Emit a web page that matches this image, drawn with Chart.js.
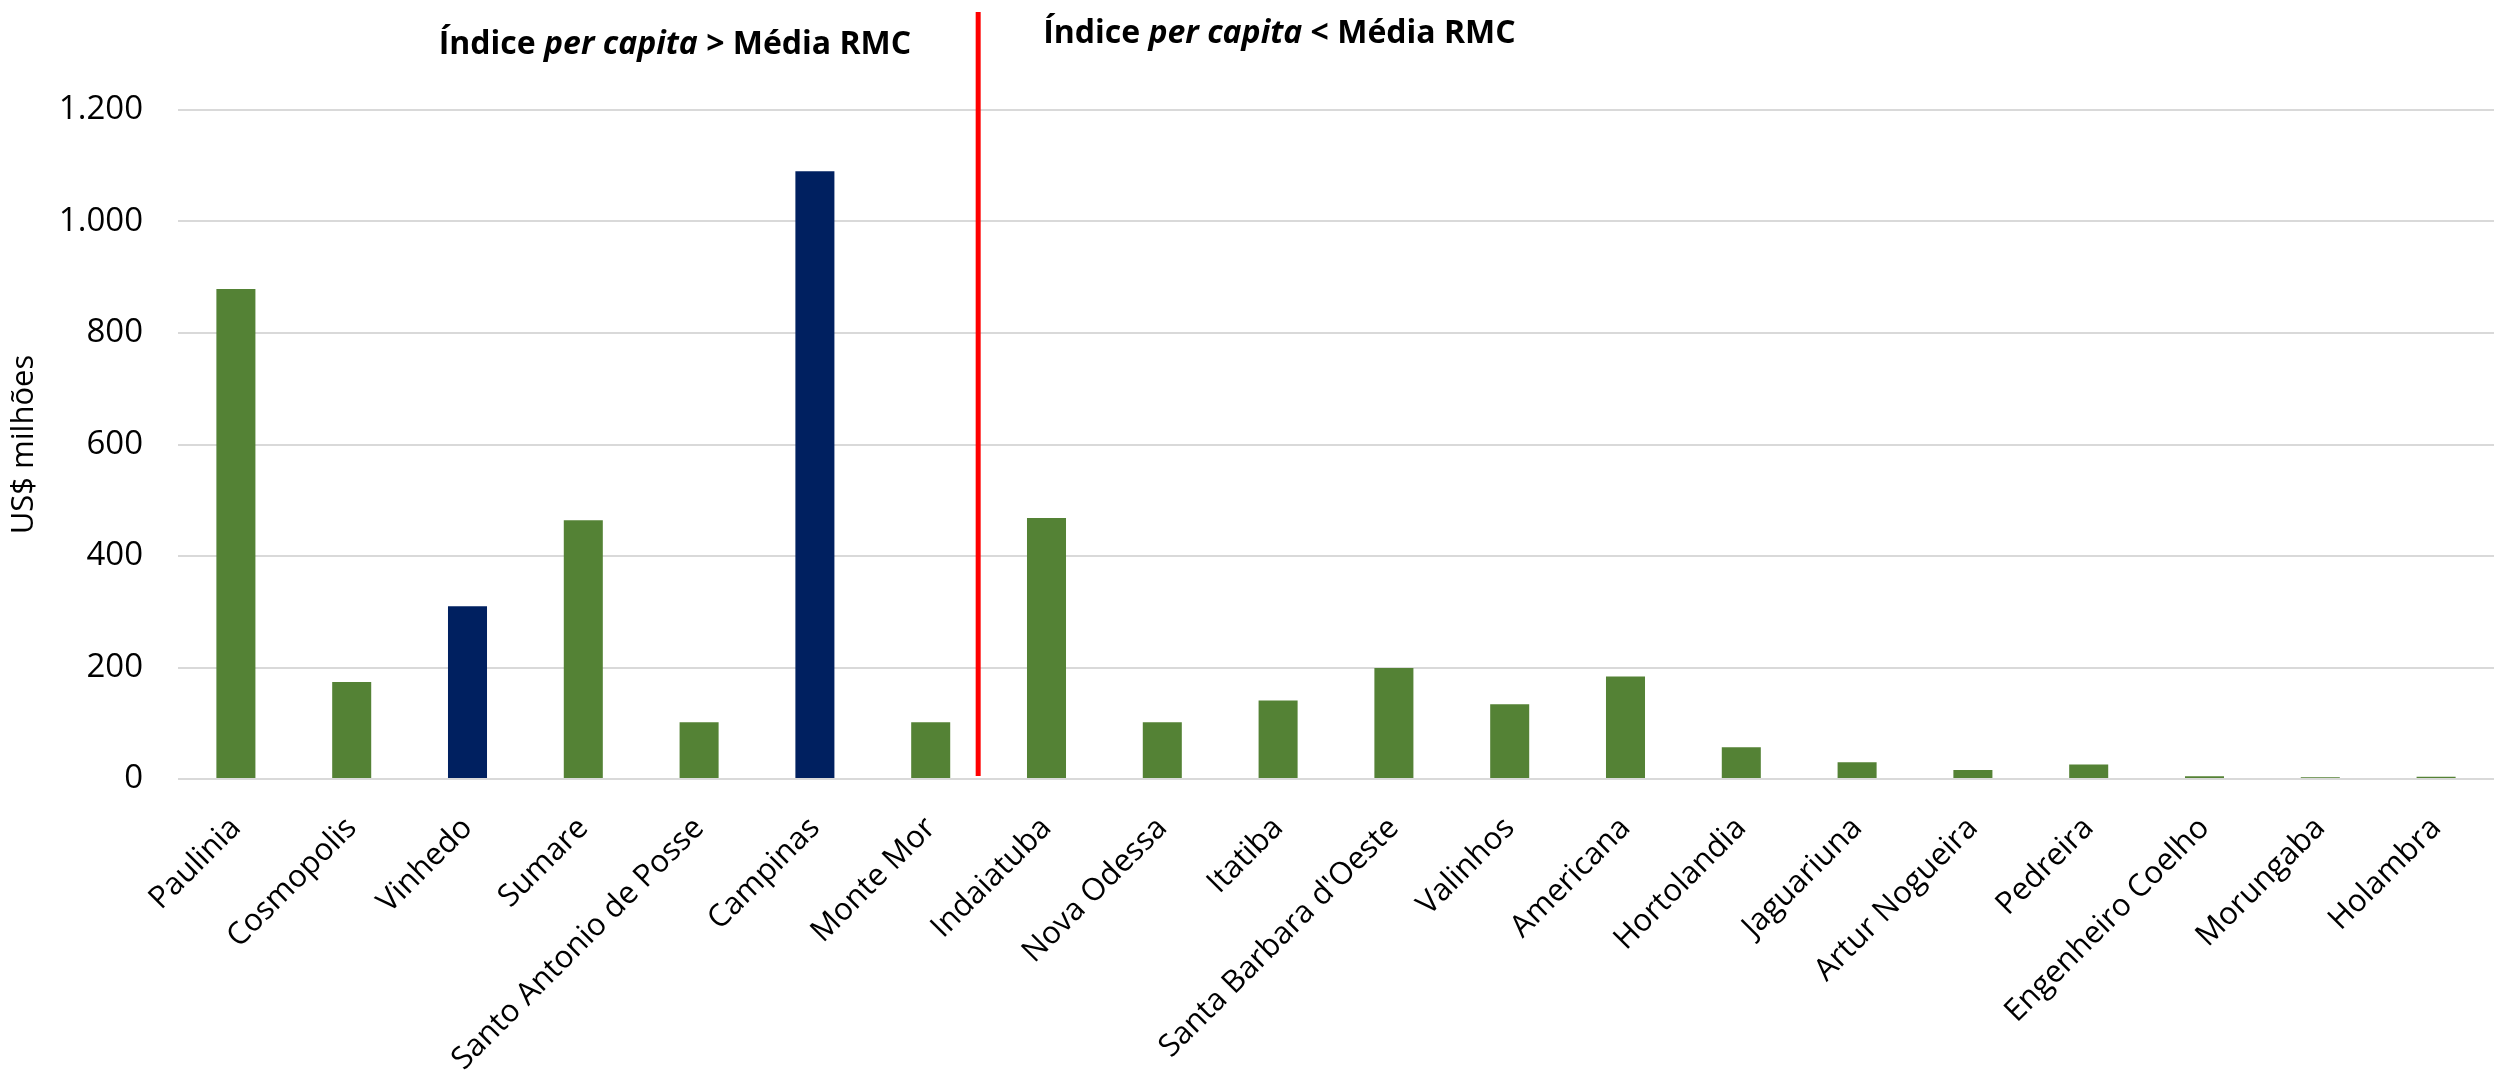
<!DOCTYPE html>
<html>
<head>
<meta charset="utf-8">
<script src="https://cdn.jsdelivr.net/npm/chart.js@4/dist/chart.umd.min.js"></script>
<style>
  html, body { margin: 0; padding: 0; background: #fff; }
  #wrap { width: 2498px; height: 1080px; }
</style>
</head>
<body>
<div id="wrap"><canvas id="pibChart"></canvas></div>
<script>
// municipios da RMC
const cidades = [
    'Paulinia', 'Cosmopolis', 'Vinhedo', 'Sumare', 'Santo Antonio de Posse',
    'Campinas', 'Monte Mor', 'Indaiatuba', 'Nova Odessa', 'Itatiba',
    "Santa Barbara d'Oeste", 'Valinhos', 'Americana', 'Hortolandia', 'Jaguariuna',
    'Artur Nogueira', 'Pedreira', 'Engenheiro Coelho', 'Morungaba', 'Holambra'
];
// US$ milhoes
const valores = [
    879, 174, 310, 464, 102,
    1090, 102, 468, 102, 141,
    199, 134, 184, 57, 30,
    16, 26, 5, 3, 4
];
const destaques = ['Vinhedo', 'Campinas'];
const yTicks = [0, 200, 400, 600, 800, 1000, 1200];
const divisao = 6.41; // linha vermelha entre Monte Mor e Indaiatuba

const verde = '#548235';
const azul = '#002060';

const fmt = v => String(v).replace(/\B(?=(\d{3})+(?!\d))/g, '.');

const divisorPlugin = {
    id: 'divisor',
    afterDraw(chart) {
        const ctx = chart.ctx;
        const x = chart.scales.x.getPixelForValue(divisao);
        const yBase = chart.scales.y.getPixelForValue(0);
        ctx.save();
        ctx.strokeStyle = '#ff0000';
        ctx.lineWidth = 5;
        ctx.beginPath();
        ctx.moveTo(x, 12);
        ctx.lineTo(x, yBase - 3);
        ctx.stroke();

        const partes = (sinal) => [
            ['Índice ', 'bold 32px "Open Sans"'],
            ['per capita', 'italic bold 32px "Open Sans"'],
            [' ' + sinal + ' Média RMC', 'bold 32px "Open Sans"']
        ];
        const desenha = (lista, xIni, yBl) => {
            let cx = xIni;
            ctx.fillStyle = '#000';
            ctx.textBaseline = 'alphabetic';
            ctx.textAlign = 'left';
            lista.forEach(([t, f]) => {
                ctx.font = f;
                ctx.fillText(t, cx, yBl);
                cx += ctx.measureText(t).width;
            });
        };
        const largura = (lista) => lista.reduce((s, [t, f]) => { ctx.font = f; return s + ctx.measureText(t).width; }, 0);
        const esq = partes('>');
        desenha(esq, x - 67 - largura(esq), 54);
        desenha(partes('<'), x + 65, 43);
        ctx.restore();
    }
};

const ctx = document.getElementById('pibChart').getContext('2d');
window.pibChart = new Chart(ctx, {
    type: 'bar',
    data: {
        labels: cidades,
        datasets: [{
            label: 'US$ milhões',
            data: valores,
            backgroundColor: cidades.map(c => destaques.includes(c) ? azul : verde),
            borderWidth: 0,
            categoryPercentage: 1,
            barPercentage: 0.337
        }]
    },
    options: {
        responsive: true,
        maintainAspectRatio: false,
        animation: false,
        layout: {
            padding: { top: 110, right: 4, left: 0, bottom: 0 }
        },
        plugins: {
            legend: { display: false },
            tooltip: { enabled: false }
        },
        scales: {
            x: {
                grid: { display: false, drawTicks: false },
                border: { display: false },
                afterFit: axis => { axis.height = 301; },
                ticks: {
                    color: '#000',
                    font: { family: 'Open Sans', size: 31 },
                    maxRotation: 45,
                    minRotation: 45,
                    autoSkip: false,
                    padding: 31
                }
            },
            y: {
                min: 0,
                max: 1200,
                afterBuildTicks: axis => { axis.ticks = yTicks.map(v => ({ value: v })); },
                afterFit: axis => { axis.width = 178; },
                grid: { color: '#d9d9d9', lineWidth: 2, drawTicks: false },
                border: { display: false },
                ticks: {
                    color: '#000',
                    font: { family: 'Open Sans', size: 33 },
                    padding: 35,
                    callback: v => fmt(v)
                },
                title: {
                    display: true,
                    text: 'US$ milhões',
                    color: '#000',
                    font: { family: 'Open Sans', size: 31 },
                    padding: { top: 6, bottom: 8 }
                }
            }
        }
    },
    plugins: [divisorPlugin]
});
</script>
</body>
</html>
